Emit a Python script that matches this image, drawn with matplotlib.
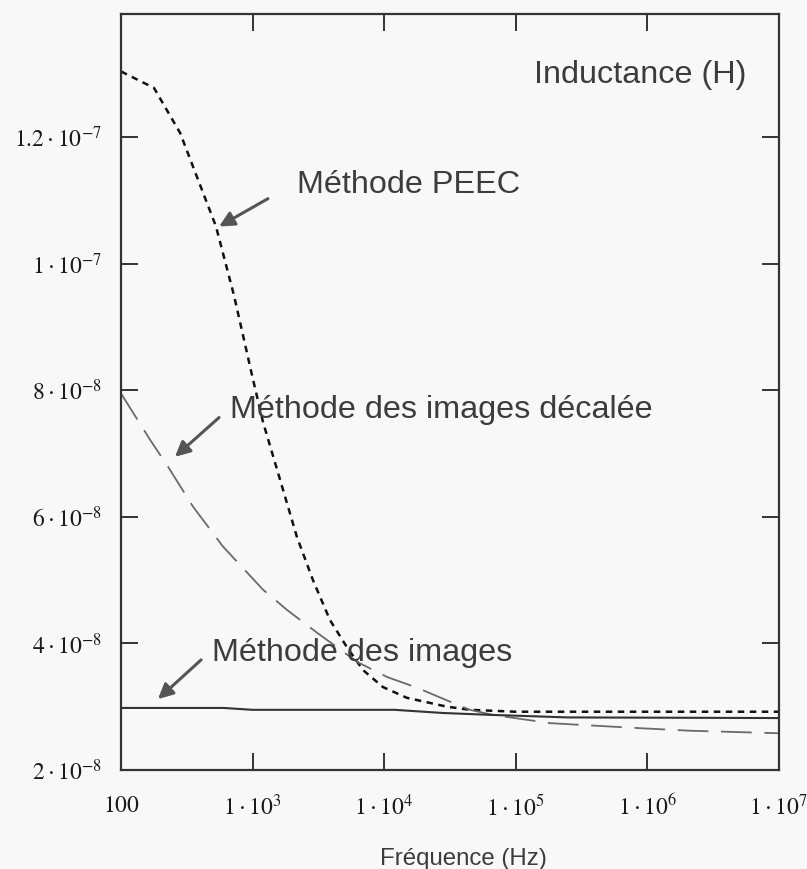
import matplotlib
matplotlib.use('Agg')
import matplotlib.pyplot as plt

# Inductance vs frequence
freq_peec = [100, 178, 281, 527, 722, 1000, 1200, 1616, 2175, 2877, 3873, 5213,
             6900, 9795, 14890, 30000, 44900, 1e5, 1e7]
ind_peec = [1.304e-7, 1.278e-7, 1.207e-7, 1.059e-7, 9.5e-8, 8.2e-8, 7.5e-8, 6.59e-8,
            5.68e-8, 5.0e-8, 4.37e-8, 3.94e-8, 3.58e-8, 3.31e-8, 3.14e-8, 3.0e-8,
            2.95e-8, 2.92e-8, 2.92e-8]

freq_decal = [100, 166, 228, 353, 596, 1199, 1825, 3085, 6210, 10500, 17750, 31600,
              44900, 67100, 1.82e5, 3.24e5, 8.8e5, 2.1e6, 1e7]
ind_decal = [7.95e-8, 7.22e-8, 6.79e-8, 6.16e-8, 5.53e-8, 4.85e-8, 4.53e-8, 4.17e-8,
             3.71e-8, 3.47e-8, 3.30e-8, 3.08e-8, 2.95e-8, 2.87e-8, 2.74e-8, 2.71e-8,
             2.66e-8, 2.62e-8, 2.58e-8]

freq_images = [100, 600, 1000, 1.2e4, 2.8e4, 6.5e4, 2.5e5, 1e7]
ind_images = [2.98e-8, 2.98e-8, 2.95e-8, 2.95e-8, 2.90e-8, 2.87e-8, 2.83e-8, 2.82e-8]

xticks = [100, 1e3, 1e4, 1e5, 1e6, 1e7]
xticklabels = [r'$100$', r'$1\cdot10^{3}$', r'$1\cdot10^{4}$', r'$1\cdot10^{5}$',
               r'$1\cdot10^{6}$', r'$1\cdot10^{7}$']
yticks = [2e-8, 4e-8, 6e-8, 8e-8, 1e-7, 1.2e-7]
yticklabels = [r'$2\cdot10^{-8}$', r'$4\cdot10^{-8}$', r'$6\cdot10^{-8}$',
               r'$8\cdot10^{-8}$', r'$1\cdot10^{-7}$', r'$1.2\cdot10^{-7}$']

plt.rcParams['mathtext.fontset'] = 'stix'
plt.rcParams['font.family'] = ['Liberation Sans', 'DejaVu Sans']

bg = '#f8f8f8'
txt = '#3c3c3c'
fig = plt.figure(figsize=(8.07, 8.69), dpi=100, facecolor=bg)
ax = fig.add_axes([0.15, 0.114, 0.815, 0.870], facecolor=bg)

ax.plot(freq_peec, ind_peec, color='#111111', lw=1.8, dashes=(2.6, 2.2))
ax.plot(freq_decal, ind_decal, color='#6a6a6a', lw=1.3, dashes=(17, 7))
ax.plot(freq_images, ind_images, color='#333333', lw=1.5)

ax.set_xscale('log')
ax.set_xlim(100, 1e7)
ax.set_ylim(2e-8, 1.395e-7)
ax.set_xticks(xticks)
ax.set_xticklabels(xticklabels)
ax.set_yticks(yticks)
ax.set_yticklabels(yticklabels)
ax.minorticks_off()
ax.tick_params(axis='both', direction='in', length=12, width=1.4, color='#333333',
               labelsize=17, labelcolor='#1a1a1a', top=True, right=True)
ax.tick_params(axis='x', pad=18)
ax.tick_params(axis='y', pad=14)
for s in ax.spines.values():
    s.set_linewidth(1.6)
    s.set_color('#333333')

ax.text(0.951, 0.919, 'Inductance (H)', transform=ax.transAxes, ha='right',
        va='center', fontsize=23.3, color=txt)
ax.set_xlabel('Fréquence (Hz)', fontsize=17.3, color=txt)
ax.xaxis.set_label_coords(0.521, -0.103)

arrow = dict(arrowstyle='-|>,head_length=0.9,head_width=0.45', color='#555555', lw=2.2,
             shrinkA=0, shrinkB=0)
ax.annotate('', xy=(556, 1.059e-7), xytext=(1309, 1.103e-7), arrowprops=arrow)
ax.text(2175, 1.125e-7, 'Méthode PEEC', fontsize=23.3, color=txt, va='center')

ax.annotate('', xy=(257, 6.95e-8), xytext=(556, 7.57e-8), arrowprops=arrow)
ax.text(673, 7.69e-8, 'Méthode des images décalée', fontsize=23.3, color=txt, va='center')

ax.annotate('', xy=(191, 3.12e-8), xytext=(406, 3.74e-8), arrowprops=arrow)
ax.text(493, 3.85e-8, 'Méthode des images', fontsize=23.3, color=txt, va='center')

fig.savefig('out.png', dpi=100, facecolor=bg)
